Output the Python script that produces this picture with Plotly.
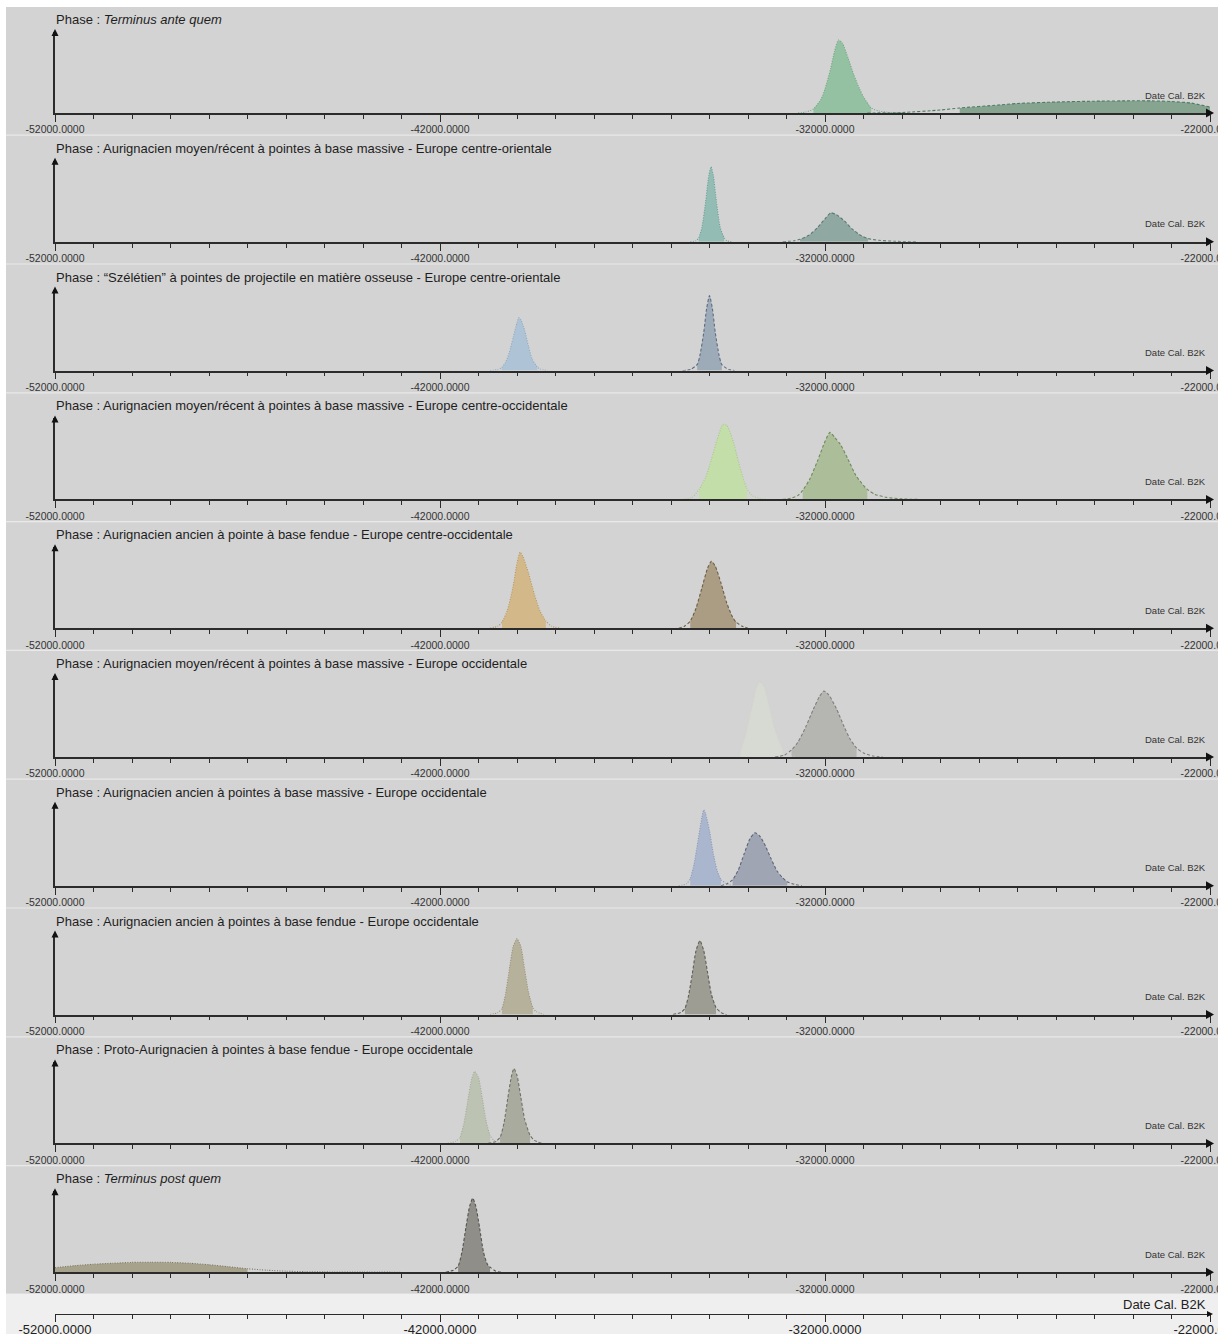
import plotly.graph_objects as go

# ---------------- figure geometry ----------------
W, H = 1225, 1334
PLOT_LEFT, PLOT_RIGHT = 55, 1210
PANEL_TOP0, PANEL_STEP = 7, 128.8
BG_LEFT, BG_RIGHT = 6, 1218

# ---------------- axis data ----------------
X_MIN, X_MAX = -52000, -22000
TICK_VALS = [-52000, -42000, -32000, -22000]
TICK_TEXT = ["-52000.0000", "-42000.0000", "-32000.0000", "-22000.0000"]
MINOR_STEP = 1000
Y_MAX = 81          # top of the (relative) density axis
AXIS_TITLE = "Date Cal. B2K"

PHASE_PREFIX = "Phase : "
PHASE_NAMES = [
    "Terminus ante quem",
    "Aurignacien moyen/récent à pointes à base massive - Europe centre-orientale",
    "“Szélétien” à pointes de projectile en matière osseuse - Europe centre-orientale",
    "Aurignacien moyen/récent à pointes à base massive - Europe centre-occidentale",
    "Aurignacien ancien à pointe à base fendue - Europe centre-occidentale",
    "Aurignacien moyen/récent à pointes à base massive - Europe occidentale",
    "Aurignacien ancien à pointes à base massive - Europe occidentale",
    "Aurignacien ancien à pointes à base fendue - Europe occidentale",
    "Proto-Aurignacien à pointes à base fendue - Europe occidentale",
    "Terminus post quem",
]
PHASE_ITALIC = [True, False, False, False, False, False, False, False, False, True]

# ---------------- densities (A = dotted, B = dashed) ----------------
p1_a_years = [-32700, -32500, -32300, -32100, -32000, -31850, -31750, -31650, -31550, -31400, -31250, -31100, -31000, -30800, -30600, -30300, -30000]
p1_a_dens = [0, 1, 4, 14, 24, 45, 62, 73, 70, 55, 38, 24, 16, 5, 2, 0.5, 0]
p1_a_hpd = [-32300, -30800]
p1_b_years = [-30900, -30000, -29000, -28500, -27500, -27000, -26000, -25000, -24000, -23500, -23000, -22500, -22000]
p1_b_dens = [0, 0.5, 3, 5, 8, 9.5, 11, 11.8, 12.2, 12.1, 11.5, 10, 6]
p1_b_hpd = [-28500, -22000]

p2_a_years = [-35500, -35350, -35280, -35200, -35100, -35020, -34960, -34900, -34820, -34720, -34620, -34550, -34400]
p2_a_dens = [0, 1, 4, 14, 40, 66, 75, 66, 40, 14, 4, 1, 0]
p2_a_hpd = [-35280, -34620]
p2_b_years = [-33100, -32800, -32650, -32400, -32200, -32000, -31850, -31700, -31500, -31300, -31100, -30880, -30600, -30200, -29600]
p2_b_dens = [0, 1, 2.5, 7, 14, 23, 29, 27, 21, 13, 7, 3.2, 1.5, 0.5, 0]
p2_b_hpd = [-32650, -30880]

p3_a_years = [-40700, -40500, -40400, -40300, -40200, -40100, -40000, -39950, -39900, -39800, -39700, -39600, -39470, -39400, -39200]
p3_a_dens = [0, 1, 3, 8, 18, 33, 48, 53, 51, 40, 24, 11, 3.5, 1.5, 0]
p3_a_hpd = [-40400, -39470]
p3_b_years = [-35700, -35500, -35320, -35250, -35150, -35075, -35000, -34925, -34850, -34750, -34680, -34500, -34350]
p3_b_dens = [0, 1, 6, 15, 38, 62, 75, 62, 38, 15, 6, 1, 0]
p3_b_hpd = [-35320, -34680]

p4_a_years = [-35700, -35450, -35270, -35100, -34950, -34800, -34650, -34550, -34400, -34250, -34100, -34030, -33900, -33700, -33500]
p4_a_dens = [0, 2, 10, 22, 40, 60, 75, 74, 60, 38, 18, 11, 4, 1, 0]
p4_a_hpd = [-35270, -34030]
p4_b_years = [-33100, -32900, -32700, -32580, -32400, -32200, -32000, -31870, -31750, -31600, -31400, -31200, -31000, -30900, -30700, -30400, -30000, -29600]
p4_b_dens = [0, 1, 4, 9, 20, 38, 58, 67, 62, 55, 40, 24, 14, 10, 5, 2, 0.5, 0]
p4_b_hpd = [-32580, -30900]

p5_a_years = [-40700, -40500, -40390, -40250, -40100, -40000, -39920, -39850, -39700, -39550, -39400, -39250, -39100, -38900]
p5_a_dens = [0, 2, 6, 18, 42, 65, 76, 72, 55, 34, 17, 7, 2, 0]
p5_a_hpd = [-40390, -39250]
p5_b_years = [-35800, -35650, -35500, -35350, -35200, -35050, -34950, -34850, -34700, -34550, -34400, -34310, -34150, -34000]
p5_b_dens = [0, 2, 7, 20, 40, 60, 67, 62, 45, 25, 11, 6, 2, 0]
p5_b_hpd = [-35500, -34310]

p6_a_years = [-34400, -34200, -34050, -33900, -33780, -33700, -33600, -33450, -33300, -33100, -33000, -32800]
p6_a_dens = [0, 6, 25, 50, 70, 75, 72, 52, 28, 8, 3, 0]
p6_a_hpd = [-34200, -33100]
p6_b_years = [-33300, -33050, -32870, -32700, -32500, -32300, -32150, -32030, -31900, -31700, -31500, -31350, -31180, -31000, -30750, -30500]
p6_b_dens = [0, 2, 7, 15, 30, 48, 60, 66, 62, 48, 30, 18, 9, 4, 1, 0]
p6_b_hpd = [-32870, -31180]

p7_a_years = [-35800, -35600, -35500, -35400, -35300, -35200, -35150, -35100, -35000, -34900, -34800, -34700, -34550, -34400]
p7_a_dens = [0, 2, 7, 22, 45, 68, 76, 72, 55, 32, 15, 6, 2, 0]
p7_a_hpd = [-35500, -34700]
p7_b_years = [-34700, -34550, -34400, -34250, -34100, -33950, -33820, -33700, -33550, -33400, -33250, -33100, -32980, -32800, -32600]
p7_b_dens = [0, 2, 6, 16, 32, 47, 53, 50, 40, 27, 15, 8, 4, 1.5, 0]
p7_b_hpd = [-34400, -32980]

p8_a_years = [-40700, -40500, -40390, -40300, -40200, -40100, -40000, -39900, -39800, -39700, -39590, -39500, -39300]
p8_a_dens = [0, 2, 6, 20, 45, 68, 76, 68, 45, 22, 7, 3, 0]
p8_a_hpd = [-40390, -39590]
p8_b_years = [-35950, -35750, -35640, -35550, -35450, -35350, -35250, -35150, -35050, -34950, -34830, -34700, -34550]
p8_b_dens = [0, 2, 6, 18, 40, 64, 74, 64, 42, 20, 7, 2, 0]
p8_b_hpd = [-35640, -34830]

p9_a_years = [-41800, -41600, -41480, -41380, -41280, -41180, -41100, -41000, -40900, -40800, -40700, -40600, -40400]
p9_a_dens = [0, 2, 6, 20, 42, 64, 72, 66, 45, 22, 8, 3, 0]
p9_a_hpd = [-41480, -40700]
p9_b_years = [-40750, -40550, -40440, -40340, -40240, -40150, -40080, -40000, -39900, -39800, -39660, -39550, -39350]
p9_b_dens = [0, 2, 6, 20, 45, 66, 75, 68, 46, 24, 8, 3, 0]
p9_b_hpd = [-40440, -39660]

p10_a_years = [-52000, -51500, -51000, -50500, -50000, -49500, -49000, -48500, -48000, -47500, -47000, -46500, -46000, -45500, -45000, -44000, -43000]
p10_a_dens = [4.5, 6.5, 8, 9, 9.8, 10, 9.8, 9, 7.5, 5.5, 3.5, 2, 1, 0.5, 0.3, 0.1, 0]
p10_a_hpd = [-52000, -47000]
p10_b_years = [-41850, -41650, -41530, -41430, -41330, -41230, -41150, -41070, -40970, -40870, -40770, -40700, -40550, -40400]
p10_b_dens = [0, 2, 6, 20, 44, 66, 74, 66, 44, 20, 8, 5, 1, 0]
p10_b_hpd = [-41530, -40700]

# colours: (fill A, line A, fill B, line B)
PANEL_COLORS = [
    ("#93c1a1", "#72a884", "#86a48f", "#4f7d62"),
    ("#93bdb4", "#6a9f95", "#90a8a2", "#5c7a74"),
    ("#aec4d6", "#8eaac0", "#9daab8", "#5d6d80"),
    ("#c3dea8", "#a8cb8a", "#acbd9a", "#6f8a5a"),
    ("#d3b98a", "#b89a62", "#ab9d83", "#6d5f45"),
    ("#d7d9d3", "#cfd2cb", "#b5b6b2", "#7e7e7b"),
    ("#aab6cd", "#8a9abb", "#9fa5b3", "#5f6678"),
    ("#b5b19b", "#99947c", "#9e9d94", "#5f5e57"),
    ("#bdc3b3", "#a3ab98", "#aaab9f", "#6f7066"),
    ("#a7a28c", "#7d7760", "#8f8e88", "#55544f"),
]

PANELS = [
    (p1_a_years, p1_a_dens, p1_a_hpd, p1_b_years, p1_b_dens, p1_b_hpd),
    (p2_a_years, p2_a_dens, p2_a_hpd, p2_b_years, p2_b_dens, p2_b_hpd),
    (p3_a_years, p3_a_dens, p3_a_hpd, p3_b_years, p3_b_dens, p3_b_hpd),
    (p4_a_years, p4_a_dens, p4_a_hpd, p4_b_years, p4_b_dens, p4_b_hpd),
    (p5_a_years, p5_a_dens, p5_a_hpd, p5_b_years, p5_b_dens, p5_b_hpd),
    (p6_a_years, p6_a_dens, p6_a_hpd, p6_b_years, p6_b_dens, p6_b_hpd),
    (p7_a_years, p7_a_dens, p7_a_hpd, p7_b_years, p7_b_dens, p7_b_hpd),
    (p8_a_years, p8_a_dens, p8_a_hpd, p8_b_years, p8_b_dens, p8_b_hpd),
    (p9_a_years, p9_a_dens, p9_a_hpd, p9_b_years, p9_b_dens, p9_b_hpd),
    (p10_a_years, p10_a_dens, p10_a_hpd, p10_b_years, p10_b_dens, p10_b_hpd),
]

FONT = "Helvetica, Arial, 'Liberation Sans', sans-serif"
AXIS_COLOR = "#2b2b2b"
DASH_STYLE = "3px,2px"
DOT_STYLE = "1px,1.5px"


def fx(p):
    return p / W


def fy(p):
    return 1 - p / H


fig = go.Figure()
shapes = []
annotations = []
layout_axes = {}

# backgrounds
shapes.append(dict(type="rect", xref="paper", yref="paper", layer="below",
                   x0=fx(BG_LEFT), x1=fx(BG_RIGHT), y0=fy(1293), y1=fy(PANEL_TOP0),
                   fillcolor="#e9e9e9", line_width=0))
shapes.append(dict(type="rect", xref="paper", yref="paper", layer="below",
                   x0=fx(BG_LEFT), x1=fx(BG_RIGHT), y0=fy(H), y1=fy(1294),
                   fillcolor="#efefef", line_width=0))


def arrow_right(yb, size=4.5):
    return dict(type="path", xref="paper", yref="paper", layer="above",
                path=f"M {fx(PLOT_RIGHT + 4)} {fy(yb)} L {fx(PLOT_RIGHT - 4)} {fy(yb - size)} "
                     f"L {fx(PLOT_RIGHT - 4)} {fy(yb + size)} Z",
                fillcolor="#111", line_width=0)


def arrow_up(ytop):
    return dict(type="path", xref="paper", yref="paper", layer="above",
                path=f"M {fx(PLOT_LEFT)} {fy(ytop - 3)} L {fx(PLOT_LEFT - 3.5)} {fy(ytop + 4)} "
                     f"L {fx(PLOT_LEFT + 3.5)} {fy(ytop + 4)} Z",
                fillcolor="#111", line_width=0)


for i, (name, ital, data, cols) in enumerate(zip(PHASE_NAMES, PHASE_ITALIC, PANELS, PANEL_COLORS)):
    top = PANEL_TOP0 + i * PANEL_STEP
    base = top + 106
    atop = base - Y_MAX
    n = i + 1
    xa = "x" if n == 1 else f"x{n}"
    ya = "y" if n == 1 else f"y{n}"

    shapes.append(dict(type="rect", xref="paper", yref="paper", layer="below",
                       x0=fx(BG_LEFT), x1=fx(BG_RIGHT), y0=fy(top + 127.6), y1=fy(top),
                       fillcolor="#d3d3d3", line_width=0))

    a_x, a_y, a_hpd, b_x, b_y, b_hpd = data
    fa, la, fb, lb = cols
    for xs, ys, hpd, fc in ((b_x, b_y, b_hpd, fb), (a_x, a_y, a_hpd, fa)):
        sel = [(x, y) for x, y in zip(xs, ys) if hpd[0] <= x <= hpd[1]]
        fig.add_trace(go.Scatter(
            x=[p[0] for p in sel], y=[p[1] for p in sel], xaxis=xa, yaxis=ya,
            mode="lines", line=dict(width=0, shape="spline", smoothing=0.6),
            fill="tozeroy", fillcolor=fc, hoverinfo="skip", showlegend=False))
    for xs, ys, lc, dash in ((b_x, b_y, lb, DASH_STYLE), (a_x, a_y, la, DOT_STYLE)):
        fig.add_trace(go.Scatter(
            x=xs, y=ys, xaxis=xa, yaxis=ya, mode="lines",
            line=dict(color=lc, width=1.1, dash=dash, shape="spline", smoothing=0.6),
            hoverinfo="skip", showlegend=False))

    layout_axes["xaxis" if n == 1 else f"xaxis{n}"] = dict(
        domain=[fx(PLOT_LEFT), fx(PLOT_RIGHT)], anchor=ya, range=[X_MIN, X_MAX],
        automargin=False,
        showgrid=False, zeroline=False, showline=True, linecolor=AXIS_COLOR, linewidth=1.5,
        ticks="outside", ticklen=7, tickwidth=1.3, tickcolor=AXIS_COLOR,
        tickmode="array", tickvals=TICK_VALS, ticktext=TICK_TEXT,
        tickfont=dict(size=10.5, color="#333", family=FONT), ticklabeloverflow="allow",
        ticklabelstandoff=-1,
        minor=dict(dtick=MINOR_STEP, tick0=X_MIN, ticks="outside", ticklen=4,
                   tickwidth=1, tickcolor=AXIS_COLOR, showgrid=False),
        fixedrange=True)
    layout_axes["yaxis" if n == 1 else f"yaxis{n}"] = dict(
        domain=[fy(base), fy(atop)], anchor=xa, range=[0, Y_MAX], automargin=False,
        showgrid=False, zeroline=False, showline=True, linecolor=AXIS_COLOR, linewidth=1.5,
        ticks="", showticklabels=False, fixedrange=True)

    shapes.append(arrow_right(base))
    shapes.append(arrow_up(atop))

    label = f"<i>{name}</i>" if ital else name
    annotations.append(dict(xref="paper", yref="paper", x=fx(PLOT_LEFT - 1), y=fy(top + 12.5),
                            xanchor="left", yanchor="middle", showarrow=False,
                            text=PHASE_PREFIX + label,
                            font=dict(size=13, color="#1e1e1e", family=FONT)))
    annotations.append(dict(xref="paper", yref="paper", x=fx(1208), y=fy(base - 18),
                            xanchor="right", yanchor="middle", showarrow=False,
                            text=AXIS_TITLE, font=dict(size=9.5, color="#333", family=FONT)))

# bottom shared axis strip
layout_axes["xaxis11"] = dict(
    domain=[fx(PLOT_LEFT), fx(PLOT_RIGHT)], anchor="y11", range=[X_MIN, X_MAX],
    automargin=False,
    showgrid=False, zeroline=False, showline=True, linecolor=AXIS_COLOR, linewidth=1.3,
    ticks="outside", ticklen=7, tickwidth=1.3, tickcolor=AXIS_COLOR,
    tickmode="array", tickvals=TICK_VALS, ticktext=TICK_TEXT,
    tickfont=dict(size=13, color="#222", family=FONT), ticklabeloverflow="allow",
    ticklabelstandoff=-4,
    minor=dict(dtick=MINOR_STEP, tick0=X_MIN, ticks="outside", ticklen=4,
               tickwidth=1, tickcolor=AXIS_COLOR, showgrid=False),
    fixedrange=True)
layout_axes["yaxis11"] = dict(domain=[fy(1314), fy(1306)], anchor="x11", range=[0, 1],
                              visible=False, fixedrange=True, automargin=False)
fig.add_trace(go.Scatter(x=[X_MIN, X_MAX], y=[None, None], xaxis="x11", yaxis="y11",
                         mode="lines", hoverinfo="skip", showlegend=False))
shapes.append(dict(type="path", xref="paper", yref="paper", layer="above",
                   path=f"M {fx(PLOT_RIGHT + 3)} {fy(1314)} L {fx(PLOT_RIGHT - 3)} {fy(1311)} "
                        f"L {fx(PLOT_RIGHT - 3)} {fy(1317)} Z",
                   fillcolor="#111", line_width=0))
annotations.append(dict(xref="paper", yref="paper", x=fx(1208), y=fy(1304),
                        xanchor="right", yanchor="middle", showarrow=False,
                        text=AXIS_TITLE, font=dict(size=13, color="#222", family=FONT)))

# white margins that clip the overflowing right labels
shapes.append(dict(type="rect", xref="paper", yref="paper", layer="above",
                   x0=fx(BG_RIGHT), x1=1, y0=0, y1=1, fillcolor="white", line_width=0))

fig.update_layout(
    width=W, height=H, margin=dict(l=0, r=0, t=0, b=0, autoexpand=False),
    paper_bgcolor="white", plot_bgcolor="rgba(0,0,0,0)",
    shapes=shapes, annotations=annotations, showlegend=False,
    **layout_axes)

fig.write_html("out.html", config={"displayModeBar": False},
               post_script="document.body.style.margin='0';document.body.style.overflow='hidden';")
